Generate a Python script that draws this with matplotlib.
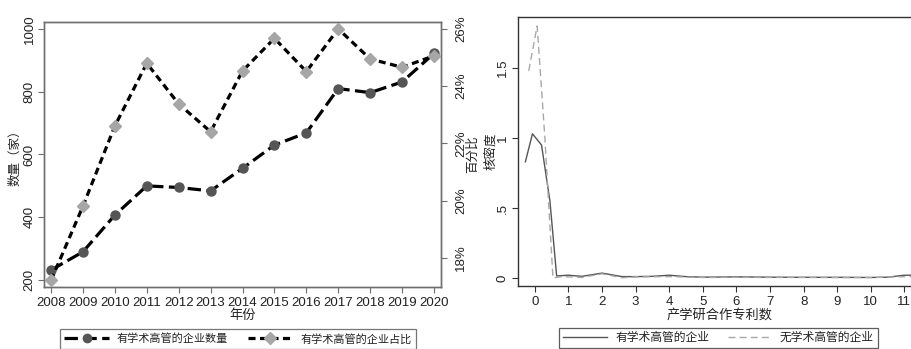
import matplotlib
matplotlib.use("Agg")
import matplotlib.pyplot as plt
from matplotlib.lines import Line2D

plt.rcParams['font.family'] = ['Liberation Sans', 'Noto Sans CJK SC', 'DejaVu Sans']
plt.rcParams['axes.unicode_minus'] = False

# ---- data: firms with academic executives, 2008-2020 ----
years = [2008, 2009, 2010, 2011, 2012, 2013, 2014, 2015, 2016, 2017, 2018, 2019, 2020]
firm_count = [232, 290, 407, 500, 495, 484, 556, 630, 669, 810, 797, 831, 922]
firm_share = [17.22, 19.81, 22.61, 24.80, 23.38, 22.41, 24.53, 25.67, 24.51, 26.00, 24.95, 24.66, 25.06]

# ---- kernel density of industry-university-research patents ----
kd_with_x = [-0.28, -0.07, 0.2, 0.45, 0.65, 1.0, 1.4, 2.0, 2.6, 3.0, 3.5, 4.0, 4.5, 5.0,
             6.0, 7.0, 8.0, 9.0, 10.0, 10.5, 11.0, 11.5]
kd_with_y = [0.83, 1.03, 0.95, 0.55, 0.015, 0.02, 0.012, 0.035, 0.01, 0.01, 0.012, 0.02,
             0.01, 0.006, 0.008, 0.006, 0.005, 0.005, 0.004, 0.006, 0.02, 0.02]
kd_without_x = [-0.18, 0.07, 0.3, 0.54, 0.8, 1.4, 2.0, 2.6, 3.0, 4.0, 5.0, 6.0, 7.0, 8.0,
                9.0, 10.0, 11.0, 11.5]
kd_without_y = [1.48, 1.80, 1.00, 0.0, 0.01, 0.004, 0.03, 0.002, 0.008, 0.01, 0.004, 0.005,
                0.004, 0.004, 0.003, 0.003, 0.01, 0.012]

left_ticks = [200, 400, 600, 800, 1000]
share_ticks = [18, 20, 22, 24, 26]
kd_yticks = [0, 0.5, 1, 1.5]
kd_yticklabels = ['0', '.5', '1', '1.5']
kd_xticks = list(range(0, 13))

W, H = 911, 349
fig = plt.figure(figsize=(W / 100, H / 100), dpi=100)
fig.patch.set_facecolor('white')

frame_col = '#6e6e6e'
text_col = '#222222'

# ---------------- left panel ----------------
ax = fig.add_axes([44 / W, 1 - 287 / H, (441 - 44) / W, (287 - 22) / H])
ax.set_xlim(2007.78, 2020.22)
ax.set_ylim(178, 1022)
ax.plot(years, firm_count, color='black', lw=2.3, dashes=(4.2, 1.7),
        marker='o', ms=6.5, mfc='#555555', mec='#555555', zorder=3)
ax2 = ax.twinx()
ax2.set_ylim(16.99, 26.24)
ax2.plot(years, firm_share, color='black', lw=2.3, dashes=(2.2, 1.4),
         marker='D', ms=6.5, mfc='#a6a6a6', mec='#a6a6a6', zorder=3)

for a in (ax, ax2):
    for s in a.spines.values():
        s.set_color(frame_col)
        s.set_linewidth(1.0)
ax.set_xticks(years)
ax.set_xticklabels([str(y) for y in years], fontsize=9.5, color=text_col)
ax.set_yticks(left_ticks)
ax.set_yticklabels([str(v) for v in left_ticks], fontsize=9.5, rotation=90, va='center',
                   color=text_col)
ax2.set_yticks(share_ticks)
ax2.set_yticklabels([f'{v}%' for v in share_ticks], fontsize=9.5, rotation=90, va='center',
                    color=text_col)
ax.tick_params(axis='x', direction='out', length=4, color=frame_col, pad=3.5)
ax.tick_params(axis='y', direction='out', length=4, color=frame_col, pad=2)
ax2.tick_params(axis='y', direction='out', length=4, color=frame_col, pad=6)
ax.set_xlabel('年份', fontsize=9.5, labelpad=0, color=text_col)
ax.set_ylabel('数量（家）', fontsize=9, labelpad=2, color=text_col)
ax2.set_ylabel('百分比', fontsize=9, rotation=90, labelpad=0, color=text_col)

h1 = Line2D([], [], color='black', lw=2.3, dashes=(4.2, 1.7), marker='o', ms=6,
            mfc='#555555', mec='#555555')
h2 = Line2D([], [], color='black', lw=2.3, dashes=(2.2, 1.4), marker='D', ms=6,
            mfc='#a6a6a6', mec='#a6a6a6')
leg = fig.legend([h1, h2], ['有学术高管的企业数量', '有学术高管的企业占比'],
                 loc='upper left', bbox_to_anchor=(60 / W, 1 - 329 / H), ncol=2,
                 fontsize=8, frameon=True, fancybox=False, handlelength=4.0,
                 columnspacing=1.8, borderpad=0.4, handletextpad=0.7, borderaxespad=0)
leg.get_frame().set_edgecolor('#555555')
leg.get_frame().set_linewidth(0.9)
for t in leg.get_texts():
    t.set_color(text_col)

# ---------------- right panel ----------------
px_per_unit = 33.6
x_left = -0.5
x_right = 12.5
rx = fig.add_axes([518 / W, 1 - 286 / H, (x_right - x_left) * px_per_unit / W, (286 - 17) / H])
rx.set_xlim(x_left, x_right)
rx.set_ylim(-0.057, 1.864)
rx.plot(kd_with_x, kd_with_y, color='#555555', lw=1.0)
rx.plot(kd_without_x, kd_without_y, color='#a8a8a8', lw=1.0, dashes=(5, 3))
rx.spines['right'].set_visible(False)
for s in ('left', 'bottom', 'top'):
    rx.spines[s].set_color('#333333')
    rx.spines[s].set_linewidth(1.0)
rx.set_xticks(kd_xticks)
rx.set_xticklabels([str(v) for v in kd_xticks], fontsize=9.5, color=text_col)
rx.set_yticks(kd_yticks)
rx.set_yticklabels(kd_yticklabels, fontsize=9.5, rotation=90, va='center', color=text_col)
rx.tick_params(axis='x', direction='out', length=4, color='#333333', pad=3.5)
rx.tick_params(axis='y', direction='out', length=4, color='#333333', pad=2.5)
rx.set_ylabel('核密度', fontsize=9, labelpad=0, color=text_col)
rx.set_xlabel('产学研合作专利数', fontsize=9.5, color=text_col)
rx.xaxis.set_label_coords((720 - 518) / ((x_right - x_left) * px_per_unit), -0.085)

g1 = Line2D([], [], color='#555555', lw=1.0)
g2 = Line2D([], [], color='#a8a8a8', lw=1.0, dashes=(5, 3))
leg2 = fig.legend([g1, g2], ['有学术高管的企业', '无学术高管的企业'],
                  loc='upper left', bbox_to_anchor=(559 / W, 1 - 328 / H), ncol=2,
                  fontsize=8.5, frameon=True, fancybox=False, handlelength=3.7,
                  columnspacing=1.6, borderpad=0.35, handletextpad=0.7, borderaxespad=0)
leg2.get_frame().set_edgecolor('#333333')
leg2.get_frame().set_linewidth(0.9)
for t in leg2.get_texts():
    t.set_color(text_col)

fig.savefig('out.png', dpi=100, facecolor='white')
